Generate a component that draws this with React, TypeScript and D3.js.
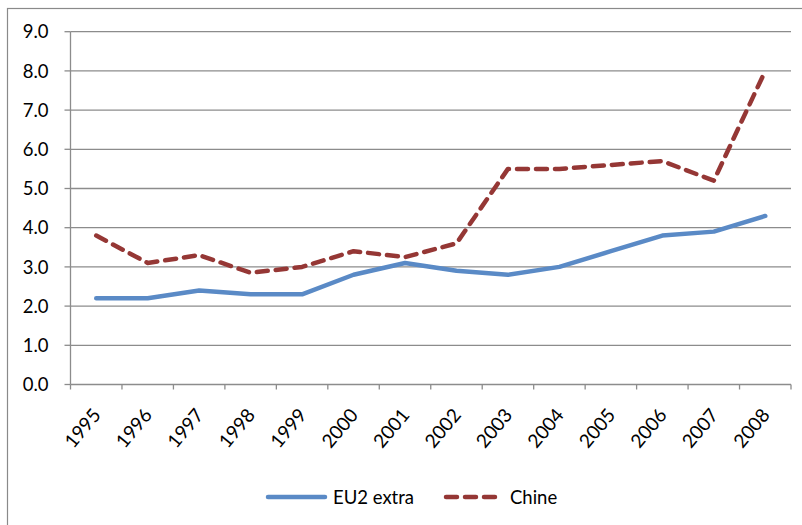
import React from "react";
import * as d3 from "d3";

const years = ["1995","1996","1997","1998","1999","2000","2001","2002","2003","2004","2005","2006","2007","2008"];
const eu2Extra = [2.2, 2.2, 2.4, 2.3, 2.3, 2.8, 3.1, 2.9, 2.8, 3.0, 3.4, 3.8, 3.9, 4.3];
const chine = [3.8, 3.1, 3.3, 2.85, 3.0, 3.4, 3.25, 3.6, 5.5, 5.5, 5.6, 5.7, 5.2, 8.0];
const yTicks = [0, 1, 2, 3, 4, 5, 6, 7, 8, 9];
const seriesNames = ["EU2 extra", "Chine"];

const W = 802;
const H = 525;
const FONT = "Lato, 'Open Sans', sans-serif";
const BLUE = "#5A8AC6";
const RED = "#953735";
const GRID = "#8c8c8c";

export default function App() {
  const left = 70.5;
  const right = 791;
  const top = 31.7;
  const bottom = 384.5;

  const x = d3.scaleBand<string>().domain(years).range([left, right]);
  const y = d3.scaleLinear().domain([0, 9]).range([bottom, top]);
  const cx = (d: string) => (x(d) as number) + x.bandwidth() / 2;

  const line = d3
    .line<number>()
    .x((_, i) => cx(years[i]))
    .y((v) => y(v));

  const tickXs = years.map((d) => x(d) as number).concat([right]);

  return (
    <svg
      width={W}
      height={H}
      style={{ position: "absolute", left: 0, top: 0, background: "#fff" }}
      fontFamily={FONT}
    >
      {/* chart frame */}
      <rect x={7.5} y={8.5} width={W + 10} height={H + 10} fill="#fff" stroke="#8a8a8a" strokeWidth={1.2} />

      {/* horizontal gridlines and y ticks */}
      {yTicks.map((t) => (
        <g key={t}>
          <line x1={left} x2={right} y1={y(t)} y2={y(t)} stroke={GRID} strokeWidth={1.3} />
          <line x1={left - 6} x2={left} y1={y(t)} y2={y(t)} stroke={GRID} strokeWidth={1.3} />
          <text x={48.5} y={y(t)} dy="0.36em" textAnchor="end" fontSize={18.5} fill="#000">
            {t.toFixed(1)}
          </text>
        </g>
      ))}

      {/* y axis line */}
      <line x1={left} x2={left} y1={top} y2={bottom} stroke={GRID} strokeWidth={1.3} />

      {/* x ticks */}
      {tickXs.map((tx, i) => (
        <line key={i} x1={tx} x2={tx} y1={bottom} y2={bottom + 5} stroke={GRID} strokeWidth={1.3} />
      ))}

      {/* rotated category labels */}
      {years.map((d) => (
        <text
          key={d}
          transform={`translate(${cx(d) + 5.5},${bottom + 31}) rotate(-50)`}
          textAnchor="end"
          fontSize={19}
          fill="#000"
        >
          {d}
        </text>
      ))}

      {/* series */}
      <path d={line(eu2Extra) || ""} fill="none" stroke={BLUE} strokeWidth={4.5} strokeLinejoin="round" strokeLinecap="round" />
      <path d={line(chine) || ""} fill="none" stroke={RED} strokeWidth={4.5} strokeDasharray="11 8" strokeLinejoin="round" strokeLinecap="round" />

      {/* legend */}
      <line x1={268} x2={325} y1={497} y2={497} stroke={BLUE} strokeWidth={4.5} strokeLinecap="round" />
      <text x={333} y={497} dy="0.36em" fontSize={18.5} fill="#000">{seriesNames[0]}</text>
      <line x1={446} x2={497} y1={497} y2={497} stroke={RED} strokeWidth={4.5} strokeDasharray="11 8" strokeLinecap="round" />
      <text x={510} y={497} dy="0.36em" fontSize={18.5} fill="#000">{seriesNames[1]}</text>
    </svg>
  );
}
